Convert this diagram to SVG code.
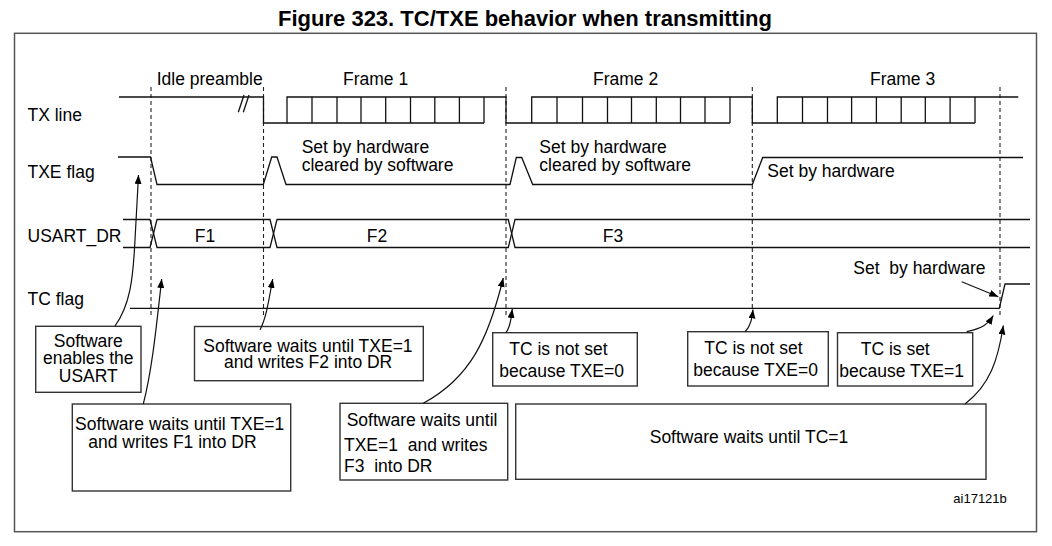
<svg xmlns="http://www.w3.org/2000/svg" width="1052" height="546" viewBox="0 0 1052 546">
<style>
text{font-family:"Liberation Sans",Arial,sans-serif;font-size:17.5px;fill:#000}
.title{font-size:22px;font-weight:bold}
.small{font-size:13px}
.sig{fill:none;stroke:#111;stroke-width:1.3}
.box{fill:#fff;stroke:#333;stroke-width:1.4}
.dash{fill:none;stroke:#222;stroke-width:1.1;stroke-dasharray:4,3}
.conn{fill:none;stroke:#111;stroke-width:1.2}
</style>
<defs>
<marker id="ah" markerUnits="userSpaceOnUse" markerWidth="10" markerHeight="8" refX="9" refY="3.5" orient="auto">
<path d="M0,0 L9,3.5 L0,7 z" fill="#000"/>
</marker>
</defs>
<rect width="1052" height="546" fill="#fff"/>
<text class="title" x="525" y="26" text-anchor="middle">Figure 323. TC/TXE behavior when transmitting</text>
<rect x="14.5" y="33.3" width="1022" height="498.4" fill="none" stroke="#555" stroke-width="1.5"/>

<g id="guides">
<path class="dash" d="M151,87 V318 M263.5,87 V318 M506,87 V318 M752.3,87 V309 M1000,87 V318"/>
</g>

<g id="tx-line">
<text x="27.5" y="120.5">TX line</text>
<text x="156.7" y="85">Idle preamble</text>
<text x="343" y="85">Frame 1</text>
<text x="593" y="85">Frame 2</text>
<text x="870" y="85">Frame 3</text>
<path class="sig" d="M119,97 H263.5 V123 H287 V97 H506 V123 H531.7 V97 H752.3 V123 H777.3 V97 H1018.3"/>
<path class="sig" d="M287,123 H484 M531.7,123 H730 M777.3,123 H975"/>
<path class="sig" d="M312,97 V123 M337,97 V123 M361,97 V123 M385.7,97 V123 M410.5,97 V123 M434.8,97 V123 M459.4,97 V123 M484,97 V123"/>
<path class="sig" d="M557,97 V123 M582.5,97 V123 M607.5,97 V123 M631.5,97 V123 M656.3,97 V123 M680.5,97 V123 M705,97 V123 M730,97 V123"/>
<path class="sig" d="M802.5,97 V123 M827.5,97 V123 M851.6,97 V123 M876.4,97 V123 M901.2,97 V123 M925.3,97 V123 M950.1,97 V123 M975,97 V123"/>
<path class="sig" d="M238.3,112.3 L244,95 M243.3,112.3 L249,95"/>
</g>

<g id="txe-flag">
<text x="27.5" y="178">TXE flag</text>
<path class="sig" d="M118,157 H150.5 L157,184.5 H263.3 L271.7,157 H277 L286,184.5 H510 L516.3,157.5 H521.7 L532.7,184.5 H752.3 L762.7,157.5 H1023"/>
<text x="301.7" y="153">Set by hardware</text>
<text x="301.7" y="171">cleared by software</text>
<text x="539.3" y="152.7">Set by hardware</text>
<text x="539.3" y="171">cleared by software</text>
<text x="767.3" y="176.7">Set by hardware</text>
</g>

<g id="usart-dr">
<text x="27.5" y="242">USART_DR</text>
<path class="sig" d="M123,219.5 H150 L157,247.5 H270 L277,219.5 H508.3 L515,247.5 H1030"/>
<path class="sig" d="M123,247.5 H150 L157,219.5 H270 L277,247.5 H508.3 L515,219.5 H1030"/>
<text x="205" y="241.5" text-anchor="middle">F1</text>
<text x="377" y="241.5" text-anchor="middle">F2</text>
<text x="613" y="241.5" text-anchor="middle">F3</text>
</g>

<g id="tc-flag">
<text x="27.5" y="304.5">TC flag</text>
<path class="sig" d="M130,308.3 H999.3 L1005,284 H1030"/>
<text x="853.3" y="274" xml:space="preserve" style="white-space:pre">Set  by hardware</text>
</g>

<g id="box-enable">
<rect class="box" x="35.7" y="326.3" width="105.3" height="66"/>
<text x="88.3" y="346.7" text-anchor="middle">Software</text>
<text x="88.3" y="364.3" text-anchor="middle">enables the</text>
<text x="88.3" y="381.7" text-anchor="middle">USART</text>
</g>

<g id="box-f1">
<rect class="box" x="72.3" y="404" width="218.4" height="87"/>
<text x="75" y="430">Software waits until TXE=1</text>
<text x="88.3" y="448.3">and writes F1 into DR</text>
</g>

<g id="box-f2">
<rect class="box" x="194.5" y="326.5" width="228.8" height="54.2"/>
<text x="203.3" y="351.7">Software waits until TXE=1</text>
<text x="224" y="368.3">and writes F2 into DR</text>
</g>

<g id="box-f3">
<rect class="box" x="340" y="403.3" width="167.7" height="76.7"/>
<text x="346.7" y="425.7">Software waits until</text>
<text x="344" y="451" xml:space="preserve" style="white-space:pre">TXE=1  and writes</text>
<text x="344" y="472.3" xml:space="preserve" style="white-space:pre">F3  into DR</text>
</g>

<g id="box-tc-not-set-1">
<rect class="box" x="492.7" y="332.7" width="144.6" height="53.3"/>
<text x="509.3" y="355">TC is not set</text>
<text x="499.3" y="376.7">because TXE=0</text>
</g>

<g id="box-tc-not-set-2">
<rect class="box" x="687.7" y="331.7" width="140.6" height="54.3"/>
<text x="704.3" y="354.3">TC is not set</text>
<text x="693.3" y="376">because TXE=0</text>
</g>

<g id="box-tc-set">
<rect class="box" x="837.5" y="332.7" width="135.2" height="53.3"/>
<text x="860.7" y="355">TC is set</text>
<text x="839.3" y="376.7">because TXE=1</text>
</g>

<g id="box-wait-tc">
<rect class="box" x="515.7" y="404" width="470.3" height="75.3"/>
<text x="749" y="443.3" text-anchor="middle">Software waits until TC=1</text>
</g>

<g id="connectors">
<path class="conn" marker-end="url(#ah)" d="M115,326 C130,305 133,280 135,240 S137.5,195 138.5,175"/>
<path class="conn" marker-end="url(#ah)" d="M143.3,404 C152,370 156,330 161.7,279"/>
<path class="conn" marker-end="url(#ah)" d="M260,330 C266,318 268,305 272.7,279"/>
<path class="conn" marker-end="url(#ah)" d="M423.3,403.3 C470,378 488,340 503.3,278"/>
<path class="conn" marker-end="url(#ah)" d="M506,332.7 C511,326 511,318 512.3,309"/>
<path class="conn" marker-end="url(#ah)" d="M745,331.7 C751,326 752,318 753,309.5"/>
<path class="conn" marker-end="url(#ah)" d="M966.7,331.7 C983,328 988,324 993.3,315.5"/>
<path class="conn" marker-end="url(#ah)" d="M965,404 C990,385 998,360 1003.3,325.5"/>
<path class="conn" marker-end="url(#ah)" d="M961.7,281.7 L998.3,296.7"/>
</g>

<text class="small" x="953.3" y="503.3">ai17121b</text>
</svg>
